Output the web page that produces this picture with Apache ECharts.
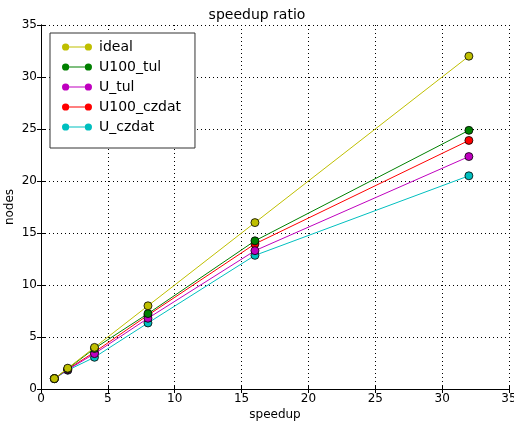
<!DOCTYPE html>
<html>
<head>
<meta charset="utf-8">
<script src="https://cdn.jsdelivr.net/npm/echarts@6/dist/echarts.min.js"></script>
<style>
  html, body { margin: 0; padding: 0; background: #fff; }
  #chart { width: 514px; height: 424px; }
</style>
</head>
<body>
<div id="chart"></div>
<script>
const speedup = [1, 2, 4, 8, 16, 32];
const ideal = [1, 2, 4, 8, 16, 32];
const u100Tul = [1, 1.95, 3.9, 7.25, 14.25, 24.87];
const uTul = [1, 1.85, 3.4, 6.8, 13.3, 22.35];
const u100Czdat = [1, 1.9, 3.55, 7.1, 13.95, 23.9];
const uCzdat = [1, 1.8, 3.05, 6.35, 12.85, 20.5];

const names = ['ideal', 'U100_tul', 'U_tul', 'U100_czdat', 'U_czdat'];
const colors = ['#bfbf00', '#008000', '#bf00bf', '#ff0000', '#00bfbf'];
const values = [ideal, u100Tul, uTul, u100Czdat, uCzdat];

const font = 'DejaVu Sans';
const legendIcon = 'path://M0.5,4a3.5,3.5 0 1,0 7,0a3.5,3.5 0 1,0 -7,0Z' +
  'M7.5,3.6L22.5,3.6L22.5,4.4L7.5,4.4Z' +
  'M22.5,4a3.5,3.5 0 1,0 7,0a3.5,3.5 0 1,0 -7,0Z';

const elem = document.getElementById('chart');
const myChart = echarts.init(elem, null, { renderer: 'canvas' });

const tickAxis = {
    min: 0, max: 35, interval: 5,
    axisLine: { show: true, lineStyle: { color: '#000', width: 1 } },
    axisTick: { show: true, inside: true, length: 4, lineStyle: { color: '#000' } },
    axisLabel: { show: false },
    splitLine: { show: false }
};

myChart.setOption({
    animation: false,
    textStyle: { fontFamily: font },
    title: {
        text: 'speedup ratio',
        left: 'center', top: 3,
        textStyle: { fontFamily: font, fontSize: 14, fontWeight: 'normal', color: '#000' }
    },
    grid: { left: 41, right: 5, top: 25, bottom: 35, outerBoundsMode: 'none', containLabel: false },
    legend: {
        orient: 'vertical',
        left: 50, top: 33,
        padding: [7, 14, 14, 12],
        itemGap: 6,
        itemWidth: 30, itemHeight: 8,
        borderColor: '#333', borderWidth: 1,
        backgroundColor: '#fff',
        itemStyle: { borderWidth: 0 },
        textStyle: { fontFamily: font, fontSize: 14, color: '#000', padding: [0, 0, 0, 2] },
        data: names.map((n) => ({ name: n, icon: legendIcon }))
    },
    xAxis: [{
        type: 'value', min: 0, max: 35, interval: 5,
        name: 'speedup', nameLocation: 'middle', nameGap: 20, nameMoveOverlap: false,
        nameTextStyle: { fontFamily: font, fontSize: 12, color: '#000' },
        axisLine: { show: true, lineStyle: { color: '#000', width: 1 } },
        axisTick: { show: true, inside: true, length: 4, lineStyle: { color: '#000' } },
        axisLabel: { fontFamily: font, fontSize: 12, color: '#000', margin: 4 },
        splitLine: { show: true, lineStyle: { color: '#000', type: [1, 3], width: 1 } }
    }, Object.assign({ position: 'top', type: 'value' }, tickAxis)],
    yAxis: [{
        type: 'value', min: 0, max: 35, interval: 5,
        name: 'nodes', nameLocation: 'middle', nameGap: 25, nameMoveOverlap: false,
        nameTextStyle: { fontFamily: font, fontSize: 12, color: '#000' },
        axisLine: { show: true, lineStyle: { color: '#000', width: 1 } },
        axisTick: { show: true, inside: true, length: 4, lineStyle: { color: '#000' } },
        axisLabel: { fontFamily: font, fontSize: 12, color: '#000', margin: 4 },
        splitLine: { show: true, lineStyle: { color: '#000', type: [1, 3], width: 1 } }
    }, Object.assign({ position: 'right', type: 'value' }, tickAxis)],
    series: names.map((n, i) => ({
        name: n,
        type: 'line',
        data: speedup.map((x, j) => [x, values[i][j]]),
        symbol: 'circle',
        symbolSize: 8,
        color: colors[i],
        lineStyle: { color: colors[i], width: 1 },
        itemStyle: { color: colors[i], borderColor: '#000', borderWidth: 0.8 },
        z: 2 + (names.length - i)
    }))
});
</script>
</body>
</html>
